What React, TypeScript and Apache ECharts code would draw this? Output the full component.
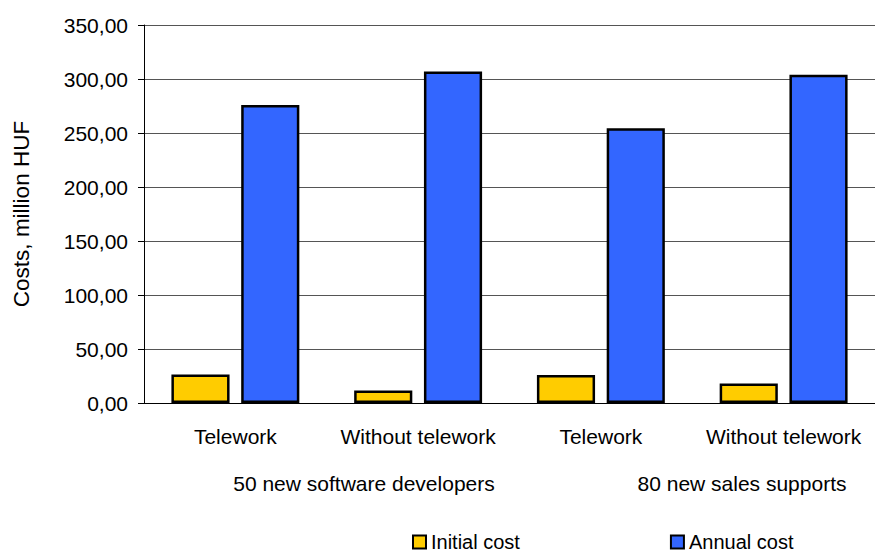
import React, { useEffect, useRef } from "react";
import * as echarts from "echarts";

const categories = ["Telework", "Without telework", "Telework", "Without telework"];
const initialCost = [26.5, 11.5, 26, 18];
const annualCost = [276, 307, 254.5, 304];
const seriesNames = ["Initial cost", "Annual cost"];
const groupLabels = ["50 new software developers", "80 new sales supports"];
const yTicks = { min: 0, max: 350, interval: 50 };
const yAxisTitle = "Costs, million HUF";

const FONT = "Liberation Sans, Arial, sans-serif";

export default function App() {
  const ref = useRef<HTMLDivElement>(null);
  useEffect(() => {
    if (!ref.current) return;
    const chart = echarts.init(ref.current, null, { renderer: "svg" });
    chart.setOption({
      animation: false,
      backgroundColor: "#ffffff",
      textStyle: { fontFamily: FONT, color: "#000" },
      grid: { left: 144, right: -3, top: 25, bottom: 151 },
      legend: {
        data: seriesNames,
        left: 412,
        top: 532,
        padding: 0,
        icon: "rect",
        itemWidth: 13,
        itemHeight: 13,
        itemGap: 150,
        itemStyle: { borderColor: "#000", borderWidth: 2 },
        textStyle: { fontSize: 20, lineHeight: 18, color: "#000", fontFamily: FONT },
      },
      xAxis: {
        type: "category",
        data: categories,
        axisLine: { lineStyle: { color: "#000", width: 1 } },
        axisTick: { length: 6, lineStyle: { color: "#000" } },
        axisLabel: { interval: 0, fontSize: 21, color: "#000", margin: 23, fontFamily: FONT },
      },
      yAxis: {
        type: "value",
        min: yTicks.min,
        max: yTicks.max,
        interval: yTicks.interval,
        name: yAxisTitle,
        nameLocation: "middle",
        nameGap: 111,
        nameTextStyle: { fontSize: 22.5, color: "#000", fontFamily: FONT },
        axisLine: { show: true, lineStyle: { color: "#000", width: 1 } },
        axisTick: { show: true, length: 6, lineStyle: { color: "#000" } },
        axisLabel: {
          fontSize: 21,
          color: "#000",
          margin: 16,
          fontFamily: FONT,
          formatter: (v: number) => v.toFixed(2).replace(".", ","),
        },
        splitLine: { show: true, lineStyle: { color: "#555", width: 1 } },
      },
      series: [
        {
          name: seriesNames[0],
          type: "bar",
          data: initialCost,
          barGap: "20%",
          barCategoryGap: "30%",
          itemStyle: { color: "#FFCC00", borderColor: "#000", borderWidth: 2.5 },
        },
        {
          name: seriesNames[1],
          type: "bar",
          data: annualCost,
          itemStyle: { color: "#3366FF", borderColor: "#000", borderWidth: 2.5 },
        },
      ],
      graphic: [
        {
          type: "text",
          x: 364,
          y: 483,
          style: {
            text: groupLabels[0],
            fontSize: 21,
            fontFamily: FONT,
            fill: "#000",
            align: "center",
            verticalAlign: "middle",
          },
        },
        {
          type: "text",
          x: 742,
          y: 483,
          style: {
            text: groupLabels[1],
            fontSize: 21,
            fontFamily: FONT,
            fill: "#000",
            align: "center",
            verticalAlign: "middle",
          },
        },
      ],
    });
    return () => chart.dispose();
  }, []);
  return (
    <div
      ref={ref}
      style={{ position: "absolute", left: 0, top: 0, width: 875, height: 554 }}
    />
  );
}
